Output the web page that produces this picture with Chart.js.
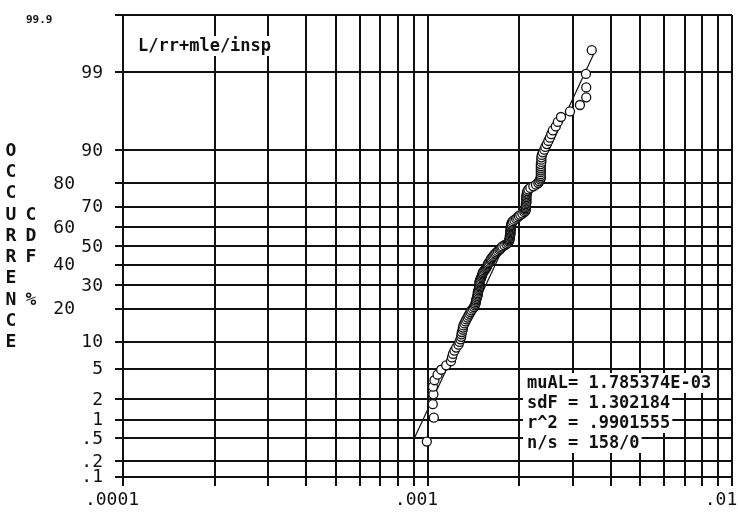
<!DOCTYPE html>
<html>
<head>
<meta charset="utf-8">
<title>L/rr+mle/insp</title>
<script src="https://cdn.jsdelivr.net/npm/chart.js@4.4.1/dist/chart.umd.min.js"></script>
<style>
  html, body { margin: 0; padding: 0; background: #fff; }
  #wrap { width: 738px; height: 522px; position: relative; }
</style>
</head>
<body>
<div id="wrap"><canvas id="c"></canvas></div>
<script>
// lognormal probability plot, 158 failures

// x gridlines (1..9 per decade) and the decade labels
const X_GRID = [
  0.0001, 0.0002, 0.0003, 0.0004, 0.0005, 0.0006, 0.0007, 0.0008, 0.0009,
  0.001, 0.002, 0.003, 0.004, 0.005, 0.006, 0.007, 0.008, 0.009, 0.01,
];
const X_DECADES = [0.0001, 0.001, 0.01];
const X_DECADE_LABELS = [".0001", ".001", ".01"];

// y gridlines in percent + their labels
const Y_TICKS = [0.1, 0.2, 0.5, 1, 2, 5, 10, 20, 30, 40, 50, 60, 70, 80, 90, 99, 99.9];
const Y_LABELS = [".1", ".2", ".5", "1", "2", "5", "10", "20", "30", "40", "50", "60", "70", "80", "90", "99", "99.9"];
const Y_SHIFTED = [20, 40, 60, 80];

// data points (value, median rank %)
const X_VALS = [
  0.000995, 0.001049, 0.001041, 0.001046, 0.001042, 0.001054, 0.001079, 0.001109, 0.001152, 0.001194,
  0.001203, 0.001212, 0.001226, 0.001242, 0.001264, 0.001273, 0.001283, 0.001290, 0.001293, 0.001297,
  0.001305, 0.001307, 0.001312, 0.001322, 0.001332, 0.001342, 0.001353, 0.001363, 0.001373, 0.001384,
  0.001394, 0.001408, 0.001421, 0.001431, 0.001437, 0.001442, 0.001444, 0.001448, 0.001453, 0.001459,
  0.001462, 0.001462, 0.001464, 0.001470, 0.001475, 0.001481, 0.001481, 0.001481, 0.001481, 0.001481,
  0.001486, 0.001492, 0.001498, 0.001503, 0.001509, 0.001515, 0.001518, 0.001526, 0.001538, 0.001549,
  0.001558, 0.001567, 0.001573, 0.001579, 0.001585, 0.001597, 0.001609, 0.001615, 0.001621, 0.001634,
  0.001646, 0.001658, 0.001671, 0.001684, 0.001703, 0.001722, 0.001735, 0.001748, 0.001762, 0.001789,
  0.001816, 0.001837, 0.001850, 0.001857, 0.001857, 0.001864, 0.001864, 0.001864, 0.001872, 0.001872,
  0.001872, 0.001872, 0.001872, 0.001879, 0.001879, 0.001879, 0.001886, 0.001886, 0.001893, 0.001907,
  0.001929, 0.001954, 0.001973, 0.001995, 0.002018, 0.002049, 0.002080, 0.002096, 0.002104, 0.002104,
  0.002104, 0.002104, 0.002104, 0.002112, 0.002112, 0.002112, 0.002112, 0.002112, 0.002112, 0.002120,
  0.002120, 0.002128, 0.002144, 0.002176, 0.002226, 0.002272, 0.002312, 0.002329, 0.002347, 0.002356,
  0.002356, 0.002356, 0.002356, 0.002356, 0.002356, 0.002356, 0.002356, 0.002365, 0.002365, 0.002365,
  0.002374, 0.002392, 0.002419, 0.002437, 0.002465, 0.002493, 0.002522, 0.002550, 0.002579, 0.002638,
  0.002679, 0.002744, 0.002937, 0.003167, 0.003321, 0.003321, 0.003314, 0.003462,
];
const P_VALS = [
  0.44, 1.07, 1.70, 2.34, 2.97, 3.60, 4.23, 4.86, 5.49, 6.12,
  6.76, 7.39, 8.02, 8.65, 9.28, 9.91, 10.54, 11.17, 11.81, 12.44,
  13.07, 13.70, 14.33, 14.96, 15.59, 16.22, 16.86, 17.49, 18.12, 18.75,
  19.38, 20.01, 20.64, 21.28, 21.91, 22.54, 23.17, 23.80, 24.43, 25.06,
  25.69, 26.33, 26.96, 27.59, 28.22, 28.85, 29.48, 30.11, 30.74, 31.38,
  32.01, 32.64, 33.27, 33.90, 34.53, 35.16, 35.80, 36.43, 37.06, 37.69,
  38.32, 38.95, 39.58, 40.21, 40.85, 41.48, 42.11, 42.74, 43.37, 44.00,
  44.63, 45.27, 45.90, 46.53, 47.16, 47.79, 48.42, 49.05, 49.68, 50.32,
  50.95, 51.58, 52.21, 52.84, 53.47, 54.10, 54.73, 55.37, 56.00, 56.63,
  57.26, 57.89, 58.52, 59.15, 59.79, 60.42, 61.05, 61.68, 62.31, 62.94,
  63.57, 64.20, 64.84, 65.47, 66.10, 66.73, 67.36, 67.99, 68.62, 69.26,
  69.89, 70.52, 71.15, 71.78, 72.41, 73.04, 73.67, 74.31, 74.94, 75.57,
  76.20, 76.83, 77.46, 78.09, 78.72, 79.36, 79.99, 80.62, 81.25, 81.88,
  82.51, 83.14, 83.78, 84.41, 85.04, 85.67, 86.30, 86.93, 87.56, 88.19,
  88.83, 89.46, 90.09, 90.72, 91.35, 91.98, 92.61, 93.25, 93.88, 94.51,
  95.14, 95.77, 96.40, 97.03, 97.66, 98.30, 98.93, 99.56,
];

// fitted line ends
const FIT_X = [0.000905, 0.00352];
const FIT_P = [0.5, 99.5];

const TITLE = "L/rr+mle/insp";
const STATS = ["muAL= 1.785374E-03", "sdF = 1.302184", "r^2 = .9901555", "n/s = 158/0"];
const AXIS_WORD = "OCCURRENCE";
const AXIS_WORD2 = "   CDF %";

const INK = "#111111";
const MONO = '"DejaVu Sans Mono", "Liberation Mono", monospace';

// inverse normal cdf (Acklam)
function probit(p) {
  const a = [-39.69683028665376, 220.9460984245205, -275.9285104469687, 138.357751867269, -30.66479806614716, 2.506628277459239];
  const b = [-54.47609879822406, 161.5858368580409, -155.6989798598866, 66.80131188771972, -13.28068155288572];
  const c = [-0.007784894002430293, -0.3223964580411365, -2.400758277161838, -2.549671010229583, 4.374664141464968, 2.938163982698783];
  const d = [0.007784695709041462, 0.3224671290700398, 2.445134137142996, 3.754408661907416];
  const lo = 0.02425;
  let q, r;
  if (p < lo) {
    q = Math.sqrt(-2 * Math.log(p));
    return (((((c[0] * q + c[1]) * q + c[2]) * q + c[3]) * q + c[4]) * q + c[5]) /
      ((((d[0] * q + d[1]) * q + d[2]) * q + d[3]) * q + 1);
  }
  if (p > 1 - lo) {
    q = Math.sqrt(-2 * Math.log(1 - p));
    return -(((((c[0] * q + c[1]) * q + c[2]) * q + c[3]) * q + c[4]) * q + c[5]) /
      ((((d[0] * q + d[1]) * q + d[2]) * q + d[3]) * q + 1);
  }
  q = p - 0.5;
  r = q * q;
  return (((((a[0] * r + a[1]) * r + a[2]) * r + a[3]) * r + a[4]) * r + a[5]) * q /
    (((((b[0] * r + b[1]) * r + b[2]) * r + b[3]) * r + b[4]) * r + 1);
}

// normal probability axis (values in percent)
class ProbScale extends Chart.LinearScale {
  determineDataLimits() {
    this.min = this.options.min;
    this.max = this.options.max;
  }
  buildTicks() {
    return Y_TICKS.map((v) => ({ value: v }));
  }
  configure() {
    super.configure();
    this._zLo = probit(this.min / 100);
    this._zHi = probit(this.max / 100);
  }
  getPixelForValue(v) {
    return this.getPixelForDecimal((probit(v / 100) - this._zLo) / (this._zHi - this._zLo));
  }
}
ProbScale.id = "probability";
ProbScale.defaults = Chart.LinearScale.defaults;
Chart.register(ProbScale);

// labels, axis words and the text boxes
const textPlugin = {
  id: "texts",
  afterDraw(chart) {
    const { ctx, scales } = chart;
    const ys = scales.y;
    ctx.save();
    ctx.fillStyle = INK;

    // y labels
    ctx.font = "18px " + MONO;
    ctx.textAlign = "right";
    ctx.textBaseline = "middle";
    Y_TICKS.forEach((v, i) => {
      if (v === 99.9) return;
      const shift = Y_SHIFTED.includes(v) ? 28 : 0;
      ctx.fillText(Y_LABELS[i], ys.right - 20 - shift, ys.getPixelForValue(v) + 1);
    });
    ctx.font = "bold 11px " + MONO;
    ctx.textAlign = "left";
    ctx.fillText(Y_LABELS[Y_TICKS.indexOf(99.9)], 26, ys.getPixelForValue(99.9) + 5);

    // stacked axis words
    ctx.font = "bold 18px " + MONO;
    ctx.textAlign = "center";
    for (let k = 0; k < AXIS_WORD.length; k++) {
      ctx.fillText(AXIS_WORD[k], 11, 151 + k * 21.3);
      const ch = AXIS_WORD2[k];
      if (ch && ch !== " ") ctx.fillText(ch, 31, 151 + k * 21.3);
    }

    // title + stats, white behind text
    ctx.font = "bold 17px " + MONO;
    ctx.textAlign = "left";
    const boxText = (s, x, y) => {
      const w = ctx.measureText(s).width;
      ctx.fillStyle = "#ffffff";
      ctx.fillRect(x - 4, y - 10, w + 6, 20);
      ctx.fillStyle = INK;
      ctx.fillText(s, x, y + 1);
    };
    boxText(TITLE, 138, 46);
    STATS.forEach((s, i) => boxText(s, 527, 383 + i * 20));

    ctx.restore();
  },
};

const points = X_VALS.map((x, i) => ({ x, y: P_VALS[i] }));
const fit = FIT_X.map((x, i) => ({ x, y: FIT_P[i] }));

new Chart(document.getElementById("c"), {
  type: "scatter",
  data: {
    datasets: [
      {
        data: points,
        pointStyle: "circle",
        pointRadius: 4.5,
        pointBorderWidth: 1.3,
        pointBackgroundColor: "#ffffff",
        pointBorderColor: INK,
      },
      {
        data: fit,
        showLine: true,
        borderColor: INK,
        borderWidth: 1.2,
        pointRadius: 0,
      },
    ],
  },
  options: {
    responsive: true,
    maintainAspectRatio: false,
    animation: false,
    events: [],
    layout: { padding: { left: 0, right: 6, top: 15, bottom: 0 } },
    plugins: { legend: { display: false }, tooltip: { enabled: false } },
    scales: {
      x: {
        type: "logarithmic",
        min: 0.0001,
        max: 0.01,
        afterBuildTicks(s) {
          s.ticks = X_GRID.map((v) => ({ value: v }));
        },
        afterFit(s) {
          s.paddingLeft = 0;
          s.paddingRight = 0;
          s.height = 43;
        },
        border: { display: false },
        grid: { color: INK, lineWidth: 2, tickLength: 7 },
        ticks: {
          autoSkip: false,
          maxRotation: 0,
          labelOffset: -11,
          padding: 4,
          color: INK,
          font: { family: MONO, size: 18 },
          callback(v) {
            const i = X_DECADES.findIndex((d) => Math.abs(v - d) < d * 1e-6);
            return i >= 0 ? X_DECADE_LABELS[i] : "";
          },
        },
      },
      y: {
        type: "probability",
        min: 0.09,
        max: 99.9,
        position: "left",
        afterFit(s) {
          s.width = 123;
        },
        border: { display: false },
        grid: { color: INK, lineWidth: 2, tickLength: 8 },
        ticks: { display: false },
      },
    },
  },
  plugins: [textPlugin],
});
</script>
</body>
</html>
